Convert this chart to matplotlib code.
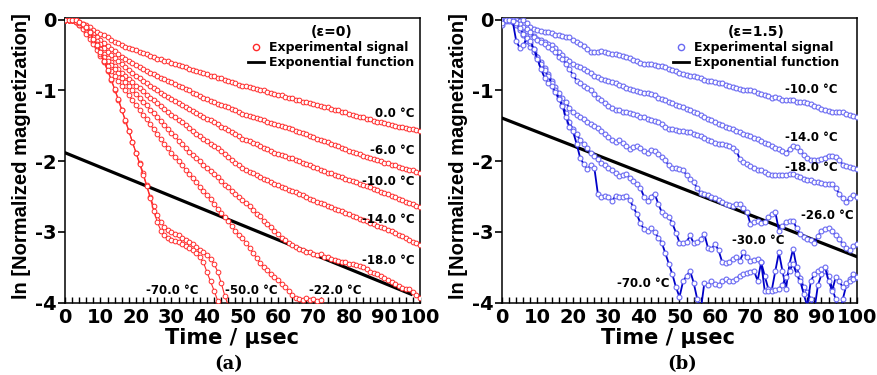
import numpy as np
import matplotlib
matplotlib.use("Agg")
import matplotlib.pyplot as plt
from matplotlib.lines import Line2D
from matplotlib.ticker import MultipleLocator

plt.rcParams['font.family'] = ['DejaVu Sans']
plt.rcParams['font.weight'] = 'bold'
plt.rcParams['axes.unicode_minus'] = False

# ── Data: ln(normalized magnetization) in 1/100 units, one sample per µs ────
# (a) eps = 0
a_0 = [0, 0, 0, -1, -3, -6, -8, -11, -15, -18, -20, -22, -25, -28, -31, -33, -36, -38, -40, -41,
       -43, -45, -47, -49, -51, -53, -55, -56, -58, -59, -61, -62, -64, -66, -67, -69, -71, -72, -74, -75,
       -77, -79, -80, -82, -83, -85, -87, -88, -90, -92, -93, -94, -95, -97, -98, -99, -100, -102, -103, -105,
       -106, -107, -109, -110, -111, -113, -114, -116, -117, -118, -119, -121, -122, -123, -124, -126, -127, -128, -130, -131,
       -133, -134, -136, -137, -138, -140, -141, -143, -144, -145, -146, -147, -149, -150, -151, -152, -153, -154, -155, -156, -157]
a_m6 = [0, 0, 0, -2, -4, -7, -11, -16, -20, -24, -28, -33, -37, -41, -44, -48, -52, -55, -58, -61,
        -64, -67, -70, -72, -75, -77, -80, -82, -84, -86, -88, -91, -93, -95, -98, -100, -103, -105, -108, -110,
        -112, -115, -117, -119, -121, -122, -124, -126, -128, -131, -133, -135, -136, -138, -139, -141, -142, -144, -146, -147,
        -149, -150, -152, -153, -155, -157, -159, -160, -162, -164, -166, -168, -170, -172, -173, -175, -177, -179, -181, -183,
        -185, -187, -189, -190, -192, -194, -196, -197, -199, -200, -202, -203, -205, -206, -208, -209, -211, -212, -213, -215, -216]
a_m10 = [0, 0, 0, -2, -5, -9, -14, -19, -24, -30, -35, -40, -45, -50, -54, -59, -63, -67, -71, -75,
         -79, -83, -86, -90, -93, -97, -100, -103, -106, -109, -112, -115, -118, -121, -123, -126, -129, -132, -134, -137,
         -140, -142, -145, -148, -151, -153, -156, -159, -162, -165, -168, -170, -172, -174, -176, -178, -181, -183, -185, -188,
         -190, -191, -193, -195, -196, -198, -200, -202, -204, -206, -208, -210, -212, -214, -216, -217, -219, -221, -223, -225,
         -227, -228, -230, -232, -233, -235, -237, -239, -241, -243, -245, -247, -249, -251, -253, -255, -257, -259, -261, -263, -265]
a_m14 = [0, 0, 0, -2, -6, -10, -16, -22, -29, -35, -42, -48, -54, -60, -65, -70, -75, -79, -84, -88,
         -93, -97, -101, -106, -110, -114, -118, -122, -126, -130, -134, -138, -142, -145, -149, -153, -157, -161, -164, -168,
         -172, -175, -179, -182, -186, -190, -194, -198, -202, -206, -209, -212, -215, -217, -220, -222, -225, -227, -230, -232,
         -234, -236, -238, -240, -242, -244, -246, -248, -251, -253, -255, -257, -259, -261, -263, -265, -267, -269, -271, -273,
         -275, -277, -279, -281, -283, -285, -287, -289, -291, -293, -295, -297, -299, -301, -304, -306, -309, -311, -314, -316, -319]
a_m18 = [0, 0, 0, -3, -7, -12, -18, -25, -32, -39, -46, -52, -58, -64, -70, -76, -82, -88, -94, -100,
         -105, -110, -116, -121, -127, -132, -138, -143, -149, -154, -160, -165, -171, -176, -182, -187, -191, -196, -200, -205,
         -209, -214, -218, -223, -228, -233, -237, -242, -246, -250, -255, -259, -264, -269, -274, -278, -284, -289, -293, -298,
         -303, -308, -312, -316, -319, -321, -324, -326, -328, -329, -331, -333, -331, -335, -336, -338, -339, -341, -342, -343,
         -345, -346, -347, -348, -350, -353, -356, -358, -360, -362, -365, -368, -371, -374, -377, -379, -380, -381, -385, -389, -393]
a_m22 = [0, 0, 0, -3, -8, -13, -20, -27, -35, -43, -51, -58, -65, -72, -79, -86, -93, -100, -107, -114,
         -121, -128, -135, -141, -148, -155, -162, -169, -176, -182, -188, -194, -200, -206, -212, -218, -224, -230, -236, -242,
         -248, -254, -260, -267, -273, -279, -285, -292, -299, -304, -309, -315, -322, -330, -337, -344, -349, -354, -359, -363,
         -368, -373, -378, -384, -389, -393, -395, -396, -394, -396, -395, -397, -396]
a_m50 = [0, 0, 0, -1, -4, -7, -12, -19, -28, -37, -48, -60, -72, -85, -99, -113, -128, -143, -158, -173,
         -188, -202, -216, -234, -250, -264, -276, -286, -293, -297, -300, -303, -305, -308, -311, -314, -317, -321, -325, -329,
         -333, -338, -345, -356, -372, -390, -404]
a_m70 = [0, 0, 0, -1, -3, -6, -11, -18, -27, -36, -46, -58, -71, -84, -98, -112, -127, -142, -157, -173,
         -188, -204, -219, -235, -252, -270, -286, -298, -305, -309, -311, -313, -314, -317, -320, -323, -326, -330, -336, -343,
         -357, -370, -383, -397]

# (b) eps = 1.5
b_m10 = [-8, 0, 0, -1, 0, -2, -1, -5, -10, -13, -15, -16, -17, -18, -19, -21, -22, -23, -24, -25,
         -29, -32, -34, -37, -41, -45, -46, -45, -44, -46, -47, -48, -49, -50, -51, -52, -54, -57, -59, -61,
         -62, -63, -63, -64, -65, -65, -67, -69, -71, -73, -75, -77, -78, -79, -80, -81, -83, -85, -86, -87,
         -88, -89, -90, -92, -93, -95, -96, -98, -99, -99, -100, -101, -103, -105, -107, -108, -110, -109, -111, -113,
         -114, -113, -114, -116, -117, -116, -118, -119, -122, -124, -126, -128, -129, -130, -131, -130, -131, -133, -134, -136, -138]
b_m14 = [-2, 0, 0, -3, -5, -8, -12, -16, -20, -23, -27, -29, -32, -34, -36, -40, -45, -50, -55, -59,
         -63, -66, -67, -70, -73, -76, -79, -81, -84, -85, -86, -88, -90, -92, -94, -96, -98, -100, -101, -102,
         -103, -103, -105, -107, -110, -112, -114, -116, -118, -120, -122, -124, -126, -128, -130, -132, -135, -137, -140, -142,
         -145, -147, -149, -151, -153, -155, -157, -159, -161, -163, -165, -167, -169, -171, -174, -176, -178, -181, -183, -186,
         -188, -183, -178, -180, -185, -191, -195, -198, -199, -198, -197, -195, -192, -193, -194, -198, -205, -207, -208, -210, -211]
b_m18 = [-3, 0, -1, 0, -4, -6, -10, -13, -18, -24, -28, -31, -35, -38, -41, -46, -52, -56, -62, -70,
         -78, -86, -90, -93, -96, -100, -105, -110, -114, -118, -122, -125, -127, -128, -130, -131, -132, -133, -135, -137,
         -138, -140, -142, -143, -145, -148, -152, -155, -155, -156, -157, -158, -159, -159, -161, -163, -164, -167, -170, -172,
         -174, -176, -176, -177, -178, -181, -185, -197, -201, -204, -207, -209, -212, -213, -215, -218, -219, -220, -220, -219,
         -219, -218, -218, -221, -223, -225, -226, -227, -229, -230, -231, -232, -232, -232, -238, -246, -252, -257, -252, -248, -251]
b_m26 = [0, -2, 0, -3, -8, -15, -22, -30, -38, -45, -52, -60, -68, -77, -86, -95, -104, -111, -117, -125,
         -131, -135, -138, -140, -144, -147, -150, -153, -158, -162, -166, -170, -173, -170, -174, -179, -183, -180, -178, -181,
         -186, -188, -184, -185, -190, -194, -199, -206, -209, -210, -211, -212, -220, -225, -230, -238, -245, -246, -248, -250,
         -252, -255, -258, -260, -262, -263, -261, -261, -266, -272, -289, -286, -284, -288, -286, -279, -275, -272, -298, -292,
         -286, -285, -284, -295, -303, -307, -310, -312, -315, -306, -298, -296, -294, -299, -305, -310, -317, -322, -326, -320, -317]
b_m30 = [-2, 0, -2, 0, -5, -12, -20, -27, -33, -42, -52, -62, -71, -80, -90, -100, -110, -120, -132, -145,
         -155, -162, -170, -176, -182, -188, -193, -197, -202, -206, -209, -213, -217, -221, -220, -218, -224, -228, -232, -238,
         -250, -256, -250, -246, -260, -272, -276, -279, -288, -301, -315, -316, -314, -305, -316, -314, -310, -303, -322, -324,
         -317, -326, -342, -344, -343, -338, -335, -341, -329, -336, -341, -339, -338, -343, -362, -380, -382, -355, -329, -355,
         -380, -345, -324, -350, -365, -378, -385, -395, -410, -375, -360, -355, -362, -380, -395, -420, -395, -375, -366, -360, -363]
b_m70 = [-4, 0, 0, -2, -30, -40, -36, -26, -30, -42, -56, -70, -82, -89, -93, -102, -112, -122, -138, -151,
         -158, -175, -195, -204, -211, -206, -209, -246, -251, -249, -251, -256, -249, -250, -251, -249, -255, -265, -275, -288,
         -296, -299, -295, -300, -308, -315, -330, -345, -360, -378, -392, -370, -362, -355, -372, -395, -410, -372, -375, -370,
         -373, -375, -370, -367, -370, -369, -366, -362, -360, -358, -356, -355, -369, -343, -383, -384, -383, -382, -380, -375,
         -364, -355, -345, -360, -369, -388, -405, -369, -360, -355, -352, -350, -369, -383, -364, -370, -378, -372, -369, -366, -364]

# exponential fit lines (end points)
fit_a_t, fit_a_y = [0, 97.5], [-1.88, -3.88]
fit_b_t, fit_b_y = [0, 100], [-1.39, -3.35]

curves_a = [a_0, a_m6, a_m10, a_m14, a_m18, a_m22, a_m50, a_m70]
curves_b = [b_m10, b_m14, b_m18, b_m26, b_m30, b_m70]

labels_a = ['0.0 \u00b0C', '-6.0 \u00b0C', '-10.0 \u00b0C', '-14.0 \u00b0C', '-18.0 \u00b0C',
            '-70.0 \u00b0C', '-50.0 \u00b0C', '-22.0 \u00b0C']
labels_b = ['-10.0 \u00b0C', '-14.0 \u00b0C', '-18.0 \u00b0C', '-26.0 \u00b0C', '-30.0 \u00b0C', '-70.0 \u00b0C']

# label placement (x, y, ha)
pos_a = [(98.5, -1.32, 'right'), (98.5, -1.85, 'right'), (98.5, -2.29, 'right'), (98.5, -2.83, 'right'),
         (98.5, -3.41, 'right'), (30.3, -3.83, 'center'), (52.4, -3.83, 'center'), (76.0, -3.83, 'center')]
pos_b = [(94.6, -0.99, 'right'), (94.6, -1.67, 'right'), (94.6, -2.09, 'right'),
         (99.0, -2.77, 'right'), (72.1, -3.12, 'center'), (39.8, -3.73, 'center')]

RED = '#ff2a2a'
BLUE_LINE = '#0000c8'
BLUE_MARK = '#6a6af2'

W, H = 878, 375
fig = plt.figure(figsize=(W / 100, H / 100), dpi=100)
axA = fig.add_axes([65 / W, 1 - 302.7 / H, 355 / W, 284.4 / H])
axB = fig.add_axes([502 / W, 1 - 302.7 / H, 355 / W, 284.4 / H])


def style(ax):
    ax.set_xlim(0, 100)
    ax.set_ylim(-4, 0.02)
    ax.xaxis.set_major_locator(MultipleLocator(10))
    ax.xaxis.set_minor_locator(MultipleLocator(2))
    ax.yaxis.set_major_locator(MultipleLocator(1))
    ax.tick_params(axis='x', which='both', direction='in', length=4, width=1,
                   labelsize=14, pad=4, top=False)
    ax.tick_params(axis='y', which='major', direction='out', length=5, width=1.2,
                   labelsize=14, pad=1, right=False)
    for s in ax.spines.values():
        s.set_linewidth(1.1)
    ax.set_xlabel('Time / \u00b5sec', fontsize=15, fontweight='bold')
    ax.set_ylabel('ln [Normalized magnetization]', fontsize=14.5, fontweight='bold',
                  fontfamily='Liberation Sans')


for ax in (axA, axB):
    style(ax)

# panel (a)
axA.plot(fit_a_t, fit_a_y, color='black', lw=2.3, zorder=2)
for y in curves_a:
    y = np.array(y) / 100.0
    axA.plot(np.arange(len(y)), y, color=RED, lw=0.8, marker='o', ms=3.4,
             mfc='white', mec=RED, mew=0.7, zorder=3)
for lab, (x, y, ha) in zip(labels_a, pos_a):
    axA.text(x, y, lab, ha=ha, va='center', fontsize=8.5, fontweight='bold', zorder=5)

# panel (b)
axB.plot(fit_b_t, fit_b_y, color='black', lw=2.3, zorder=2)
for y in curves_b:
    y = np.array(y) / 100.0
    axB.plot(np.arange(len(y)), y, color=BLUE_LINE, lw=1.3, marker='o', ms=3.5,
             mfc='white', mec=BLUE_MARK, mew=0.8, zorder=3)
for lab, (x, y, ha) in zip(labels_b, pos_b):
    axB.text(x, y, lab, ha=ha, va='center', fontsize=8.5, fontweight='bold', zorder=5)

# legends
for ax, col, title, right in ((axA, RED, '(\u03b5=0)', 0.985), (axB, BLUE_MARK, '(\u03b5=1.5)', 0.95)):
    h = [Line2D([], [], ls='none', marker='o', ms=4.5, mfc='white', mec=col, mew=1.0),
         Line2D([], [], color='black', lw=2)]
    ax.legend(h, ['Experimental signal', 'Exponential function'], title=title,
              loc='upper right', bbox_to_anchor=(right, 0.975), frameon=False,
              prop=dict(weight='bold', size=9),
              title_fontproperties=dict(weight='bold', size=10),
              handlelength=1.3, handletextpad=0.4, labelspacing=0.15,
              borderpad=0, borderaxespad=0)

axA.xaxis.set_label_coords(0.47, -0.09)
axB.xaxis.set_label_coords(0.468, -0.09)
axA.yaxis.set_label_coords(-0.095, 0.514)
axB.yaxis.set_label_coords(-0.095, 0.514)

fig.text(229 / W, 1 - 364 / H, '(a)', ha='center', va='center', fontsize=13,
         fontweight='bold', family='DejaVu Serif')
fig.text(682 / W, 1 - 364 / H, '(b)', ha='center', va='center', fontsize=13,
         fontweight='bold', family='DejaVu Serif')

fig.savefig('out.png', dpi=100)
